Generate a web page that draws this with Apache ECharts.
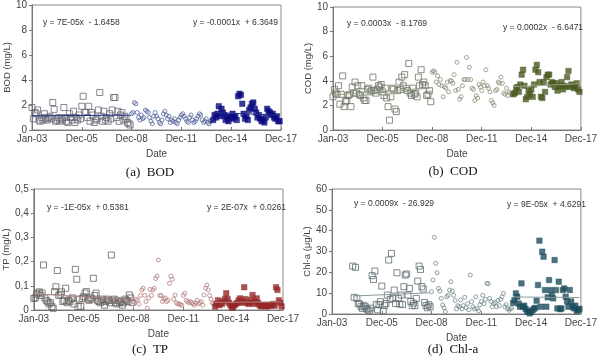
<!DOCTYPE html>
<html><head><meta charset="utf-8">
<script src="https://cdn.jsdelivr.net/npm/echarts@6/dist/echarts.min.js"></script>
<style>html,body{margin:0;padding:0;background:#fff}#c{width:600px;height:361px}</style>
</head><body><div id="c"></div>
<script>
// x positions: months since Jan-2003
const xTickLabels = ["Jan-03","Dec-05","Dec-08","Dec-11","Dec-14","Dec-17"];
const startA = 0, startB = 72, startC = 131, startChlA = 15;

const bodA = [1.8,0.9,1.4,1.3,1.6,0.8,0.7,1.0,0.8,1.3,0.9,0.8,1.0,1.1,0.9,2.2,1.65,0.7,0.8,1.0,0.7,0.9,0.8,1.8,1.0,0.7,0.6,1.3,1.0,0.8,1.5,0.6,1.0,0.8,1.2,0.9,1.9,2.7,1.4,1.4,1.0,1.9,0.7,1.4,1.2,0.6,0.8,0.9,1.6,3.0,1.1,0.7,1.5,0.8,1.0,0.7,1.3,0.9,1.6,2.6,2.6,1.0,1.5,0.7,1.2,1.4,0.8,1.1,0.9,0.6,0.5,0.4];
const bodB = [1.3,1.4,2.2,2.1,1.4,1.0,0.8,1.2,0.9,1.0,1.6,1.5,1.4,1.0,0.7,0.5,1.1,1.4,1.1,0.9,0.6,0.5,0.8,1.3,1.5,1.2,0.9,1.1,0.6,0.8,0.7,0.9,0.6,0.5,0.8,1.0,1.2,1.3,1.1,0.9,0.7,0.6,1.0,1.2,0.8,0.6,0.7,0.9,1.1,1.3,1.2,0.8,0.6,0.7,0.9,0.6,0.5,0.7,0.8];
const bodC = [0.8,1.2,1.0,1.3,1.9,1.1,1.7,1.4,1.2,0.8,1.0,0.7,1.1,0.9,1.3,1.0,1.1,0.8,2.7,2.9,2.8,2.1,1.3,0.9,1.1,0.8,1.6,1.8,2.1,2.2,1.7,1.4,1.0,1.2,0.9,0.7,0.8,0.6,1.0,1.7,1.5,1.4,1.2,1.3,1.0,0.9,1.1,0.7,0.7];

const codA = [2.7,3.3,3.0,2.9,3.6,2.1,2.9,4.4,1.9,2.3,2.4,2.8,2.9,1.9,3.5,3.0,3.9,3.0,3.6,2.9,2.8,3.6,2.6,2.4,2.4,3.3,3.4,3.1,3.2,4.3,3.2,3.0,3.3,3.6,3.5,3.7,3.1,2.8,3.4,2.6,1.9,0.8,2.7,3.4,3.3,1.7,1.5,3.2,3.9,3.3,4.3,3.6,4.5,3.4,3.2,5.4,3.0,2.8,3.4,2.9,3.0,2.7,4.3,3.6,4.9,3.7,3.9,3.6,2.8,2.9,3.2,2.3];
const codB = [4.7,4.8,4.7,3.9,4.4,3.7,4.1,3.6,2.7,3.5,3.4,3.9,3.1,4.0,4.0,3.8,4.5,3.2,5.5,3.3,2.5,2.7,3.6,4.1,4.1,5.9,4.1,5.1,4.1,3.4,3.3,2.4,2.8,2.6,3.7,3.5,3.2,3.9,3.6,4.9,3.6,3.4,3.1,2.4,2.2,2.0,3.2,3.3,3.9,3.8,4.3,3.8,3.0,2.9,3.4,2.8,3.1,3.0,2.9];
const codC = [2.9,3.0,3.4,3.5,3.1,3.7,4.5,4.9,3.6,2.5,2.7,3.2,2.9,3.3,2.7,3.7,4.9,5.3,4.7,3.9,2.7,2.6,3.9,3.1,4.3,4.5,4.5,3.7,3.9,3.8,3.5,3.8,3.2,3.5,3.6,3.9,3.3,3.6,3.5,4.3,4.8,3.5,3.7,3.6,3.4,3.5,3.8,3.3,3.1];

const tpA = [0.048,0.050,0.065,0.070,0.075,0.060,0.070,0.186,0.050,0.040,0.034,0.025,0.030,0.014,0.007,0.076,0.096,0.163,0.060,0.065,0.075,0.035,0.040,0.090,0.030,0.040,0.035,0.045,0.050,0.025,0.168,0.127,0.014,0.045,0.015,0.048,0.055,0.070,0.076,0.045,0.040,0.050,0.045,0.131,0.060,0.070,0.040,0.035,0.030,0.045,0.040,0.020,0.035,0.045,0.040,0.030,0.227,0.040,0.045,0.030,0.025,0.040,0.030,0.035,0.020,0.030,0.045,0.040,0.035,0.062,0.050,0.030];
const tpB = [0.035,0.030,0.045,0.040,0.025,0.060,0.083,0.090,0.060,0.035,0.007,0.050,0.085,0.060,0.083,0.090,0.130,0.140,0.207,0.060,0.060,0.035,0.045,0.050,0.035,0.040,0.110,0.140,0.127,0.045,0.062,0.030,0.025,0.025,0.022,0.020,0.060,0.069,0.040,0.035,0.030,0.035,0.030,0.025,0.020,0.030,0.040,0.025,0.030,0.035,0.020,0.062,0.090,0.103,0.083,0.060,0.045,0.030,0.025];
const tpC = [0.014,0.025,0.040,0.020,0.030,0.025,0.035,0.045,0.069,0.045,0.030,0.020,0.010,0.012,0.020,0.025,0.030,0.040,0.048,0.030,0.035,0.094,0.045,0.030,0.025,0.030,0.040,0.062,0.025,0.035,0.048,0.030,0.020,0.015,0.018,0.020,0.015,0.020,0.015,0.020,0.018,0.020,0.025,0.018,0.094,0.083,0.040,0.030,0.015];

const chlA = [23.0,8.0,22.4,7.5,5.0,4.8,3.5,2.7,4.0,3.5,2.5,2.0,1.5,2.8,18.4,16.6,20.6,4.5,2.0,4.5,5.9,13.4,1.5,4.0,5.0,9.1,25.9,7.0,29.1,7.5,11.5,5.0,19.8,7.5,4.8,9.1,4.5,13.1,18.7,19.2,9.1,12.3,6.0,4.0,5.2,4.0,7.5,15.8,23.0,21.4,13.1,12.0,5.5,4.0,3.0,4.5,3.5];
const chlB = [10.7,16.3,36.8,24.3,19.8,12.3,11.0,7.5,4.3,3.0,1.0,8.3,9.0,11.5,15.5,11.0,9.0,6.5,2.5,4.0,3.5,6.7,2.5,4.0,8.0,3.0,5.0,2.0,18.7,6.0,3.5,2.5,8.3,2.5,1.5,4.5,6.0,9.0,5.0,7.0,14.7,14.5,7.5,6.0,3.5,5.0,5.5,3.5,6.5,4.0,7.0,8.3,9.9,3.5,4.5,2.5,1.8,2.5,3.0];
const chlC = [5.4,6.7,9.9,8.3,5.0,3.5,14.7,3.5,4.0,2.5,1.5,1.1,0.3,1.0,1.8,2.5,3.0,6.4,13.9,35.2,3.5,29.9,27.5,11.5,3.5,8.0,16.3,11.5,9.0,7.5,25.9,11.5,2.7,15.5,2.3,2.7,11.5,12.3,8.3,6.0,3.5,11.5,6.0,3.5,2.7,4.0,1.5,2.0,2.5];

const panels = [
  {name:"BOD (mg/L)", cap:"(a)  BOD", A:bodA, B:bodB, C:bodC, a0:startA, max:10, step:2, dec:false,
   eq1:"y = 7E-05x  - 1.6458", eq2:"y = -0.0001x  + 6.3649",
   cs:"#6a6a78", cb:"#56679e", cc:"#0b0b80", ct:"#25308a",
   grid:{left:32, top:5, width:249, height:125}, eqY:[23,23], eqX:[43,193], capY:173, dateY:148},
  {name:"COD (mg/L)", cap:"(b)  COD", A:codA, B:codB, C:codC, a0:startA, max:10, step:2, dec:false,
   eq1:"y = 0.0003x  - 8.1769", eq2:"y = 0.0002x  - 6.6471",
   cs:"#6f7566", cb:"#8a9078", cc:"#4b5b22", ct:"#9aa58a",
   grid:{left:333, top:7, width:250, height:123}, eqY:[24,28], eqX:[347,503], capY:172, dateY:150},
  {name:"TP (mg/L)", cap:"(c)  TP", A:tpA, B:tpB, C:tpC, a0:startA, max:0.5, step:0.1, dec:true,
   eq1:"y = -1E-05x  + 0.5381", eq2:"y = 2E-07x  + 0.0261",
   cs:"#666262", cb:"#b58080", cc:"#962727", ct:"#b08585",
   grid:{left:32, top:189, width:251, height:121}, eqY:[208,208], eqX:[47,207], capY:350, dateY:330},
  {name:"Chl-a (μg/L)", cap:"(d)  Chl-a", A:chlA, B:chlB, C:chlC, a0:startChlA, max:60, step:10, dec:false,
   eq1:"y = 0.0009x  - 26.929", eq2:"y = 9E-05x  + 4.6291",
   cs:"#5e6c70", cb:"#74898f", cc:"#1d4d5c", ct:"#8a9a9e",
   grid:{left:332, top:189, width:253, height:125}, eqY:[204,205], eqX:[354,507], capY:350, dateY:331}
];

function pts(arr, start){ return arr.map((v,i)=>[start+i, v]); }
function trend(p){
  const n=p.length; let sx=0,sy=0,sxx=0,sxy=0;
  p.forEach(([x,y])=>{sx+=x;sy+=y;sxx+=x*x;sxy+=x*y;});
  const b=(n*sxy-sx*sy)/(n*sxx-sx*sx), a=(sy-b*sx)/n;
  const x0=p[0][0], x1=p[n-1][0];
  return [[x0,a+b*x0],[x1,a+b*x1]];
}

const grids=[], xAxes=[], yAxes=[], series=[], graphics=[];
const font = "Liberation Sans, Arial, sans-serif";
panels.forEach((P,k)=>{
  grids.push(Object.assign({show:true, borderColor:"#8a8a8a", borderWidth:1, backgroundColor:"#fff"}, P.grid));
  xAxes.push({gridIndex:k, type:"value", min:0, max:180, interval:36,
    name:"Date", nameLocation:"middle", nameGap:19, nameTextStyle:{fontSize:10, color:"#444", fontFamily:font},
    axisLine:{show:true, lineStyle:{color:"#777"}}, axisTick:{show:true, inside:true, length:3, lineStyle:{color:"#777"}},
    splitLine:{show:false},
    axisLabel:{fontSize:10, color:"#444", margin:4, fontFamily:font, formatter:v=>xTickLabels[Math.round(v/36)]}});
  yAxes.push({gridIndex:k, type:"value", min:0, max:P.max, interval:P.step,
    name:P.name, nameLocation:"middle", nameGap:20, nameRotate:90, nameTextStyle:{fontSize:9.5, color:"#444", fontFamily:font},
    axisLine:{show:true, lineStyle:{color:"#777"}}, axisTick:{show:true, length:3, lineStyle:{color:"#777"}},
    splitLine:{show:false},
    axisLabel:{fontSize:10, color:"#444", margin:5, fontFamily:font,
      formatter:v=>{ if(P.dec){ return v===0?"0":(Math.round(v*10)/10).toFixed(1).replace(".",","); } return String(v);} }});
  const pA=pts(P.A,P.a0), pB=pts(P.B,startB), pC=pts(P.C,startC);
  series.push({type:"scatter", xAxisIndex:k, yAxisIndex:k, data:pA, symbol:"rect", symbolSize:6,
    itemStyle:{color:"rgba(255,255,255,0)", borderColor:P.cs, borderWidth:1}, z:2});
  series.push({type:"scatter", xAxisIndex:k, yAxisIndex:k, data:pB, symbol:"circle", symbolSize:4,
    itemStyle:{color:"rgba(255,255,255,0)", borderColor:P.cb, borderWidth:1}, z:2});
  series.push({type:"scatter", xAxisIndex:k, yAxisIndex:k, data:pC, symbol:"rect", symbolSize:5.5,
    itemStyle:{color:P.cc, borderColor:P.cc, borderWidth:0.5}, z:2});
  series.push({type:"line", xAxisIndex:k, yAxisIndex:k, data:trend(pA), symbol:"none", lineStyle:{color:P.ct, width:1}, z:3});
  series.push({type:"line", xAxisIndex:k, yAxisIndex:k, data:trend(pC), symbol:"none", lineStyle:{color:P.ct, width:1}, z:3});
  graphics.push({type:"text", left:P.eqX[0], top:P.eqY[0]-5, style:{text:P.eq1, fontSize:8.5, fill:"#333", fontFamily:font}});
  graphics.push({type:"text", left:P.eqX[1], top:P.eqY[1]-5, style:{text:P.eq2, fontSize:8.5, fill:"#333", fontFamily:font}});
  const cx = P.grid.left < 300 ? 150 : 453;
  graphics.push({type:"text", x:cx, y:P.capY, style:{text:P.cap, fontSize:13, fill:"#111", fontFamily:"Liberation Serif, Times New Roman, serif", align:"center", verticalAlign:"middle"}});
});

const chart = echarts.init(document.getElementById("c"), null, {renderer:"canvas"});
chart.setOption({animation:false, backgroundColor:"#fff", grid:grids, xAxis:xAxes, yAxis:yAxes, series:series, graphic:graphics});
</script></body></html>
